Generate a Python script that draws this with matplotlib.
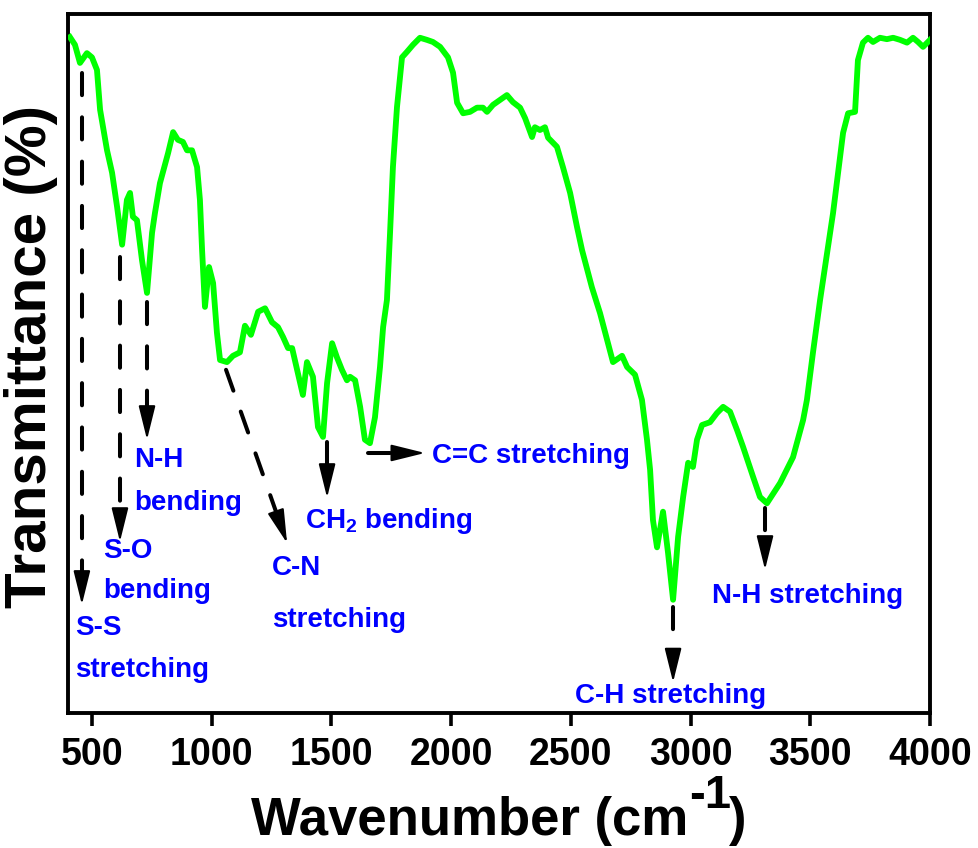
import matplotlib
matplotlib.use("Agg")
import matplotlib.pyplot as plt
import numpy as np

plt.rcParams['font.family'] = ['Liberation Sans', 'DejaVu Sans']
plt.rcParams['font.weight'] = 'bold'
plt.rcParams['mathtext.fontset'] = 'custom'
plt.rcParams['mathtext.rm'] = 'Liberation Sans:bold'
plt.rcParams['mathtext.bf'] = 'Liberation Sans:bold'
plt.rcParams['mathtext.it'] = 'Liberation Sans:bold'

# FTIR spectrum
wavenumber = [408, 429, 450, 479, 500, 521, 534, 563, 584, 605, 626, 646, 659, 671, 688, 709, 730,
              751, 763, 784, 818, 839, 859, 880, 897, 918, 939, 951, 960, 972, 989, 1006, 1022,
              1035, 1064, 1089, 1118, 1139, 1164, 1194, 1223, 1252, 1277, 1298, 1319, 1336, 1356,
              1381, 1398, 1423, 1444, 1465, 1482, 1503, 1523, 1544, 1565, 1578, 1599, 1620, 1640,
              1661, 1682, 1703, 1716, 1732, 1745, 1757, 1774, 1795, 1816, 1841, 1870, 1899, 1924,
              1954, 1987, 2008, 2025, 2050, 2079, 2108, 2133, 2150, 2175, 2233, 2258, 2288, 2309,
              2338, 2350, 2371, 2392, 2405, 2442, 2467, 2497, 2526, 2547, 2588, 2622, 2676, 2714,
              2735, 2768, 2797, 2818, 2831, 2843, 2860, 2885, 2906, 2927, 2948, 2969, 2990, 3010,
              3027, 3048, 3081, 3110, 3136, 3165, 3194, 3219, 3261, 3290, 3319, 3374, 3428, 3470,
              3486, 3511, 3541, 3570, 3595, 3616, 3637, 3658, 3687, 3699, 3720, 3741, 3762, 3791,
              3820, 3846, 3875, 3904, 3929, 3950, 3971, 4000]
transmittance = [96.7, 95.6, 93.0, 94.4, 93.8, 92.0, 86.3, 80.5, 77.3, 72.4, 67.0, 73.4, 74.4, 71.0,
                 70.5, 64.8, 60.1, 68.7, 71.5, 75.8, 80.1, 83.1, 82.0, 81.7, 80.5, 80.5, 78.1, 73.4,
                 66.2, 58.1, 63.8, 61.5, 54.4, 50.5, 50.2, 51.1, 51.6, 55.4, 54.1, 57.4, 57.9, 55.9,
                 55.2, 53.8, 52.2, 52.2, 49.2, 45.5, 50.2, 48.1, 40.9, 39.5, 47.2, 52.9, 50.9, 49.1,
                 47.6, 48.1, 47.6, 43.8, 39.1, 38.6, 42.3, 49.5, 55.2, 59.1, 68.7, 78.1, 86.7, 93.8,
                 94.6, 95.6, 96.6, 96.3, 96.0, 95.3, 93.8, 91.6, 87.3, 85.8, 86.0, 86.6, 86.6, 86.0,
                 87.0, 88.4, 87.4, 86.6, 85.1, 82.4, 83.8, 83.4, 83.8, 82.3, 81.0, 78.1, 74.4, 69.5,
                 66.2, 60.9, 57.2, 50.2, 51.1, 49.5, 48.4, 44.8, 39.1, 34.8, 27.6, 23.7, 28.8, 22.9,
                 16.2, 25.2, 30.9, 35.8, 35.2, 39.1, 41.2, 41.6, 42.9, 43.8, 43.1, 40.5, 38.1, 33.8,
                 30.9, 30.0, 32.9, 36.6, 41.9, 44.8, 51.5, 59.1, 65.8, 71.5, 77.3, 83.0, 85.8, 86.0,
                 93.4, 95.9, 96.6, 96.0, 96.6, 96.4, 96.6, 96.3, 95.9, 96.6, 96.0, 95.3, 96.3]

# band assignments: (arrow start, arrow tip)
arrow_starts = [(458, 91.6), (617, 65.2), (730, 58.8), (1060, 49.1), (1482, 38.8),
                (1653, 37.2), (2927, 15.2), (3311, 29.3)]
arrow_tips = [(458, 15.5), (617, 24.5), (730, 39.1), (1315, 24.3), (1482, 30.8),
              (1891, 37.2), (2927, 4.4), (3311, 20.5)]
labels = [
    (429, 11.2, 'S-S', 'left'), (429, 5.2, 'stretching', 'left'),
    (546, 22.2, 'S-O', 'left'), (546, 16.5, 'bending', 'left'),
    (676, 35.2, 'N-H', 'left'), (676, 29.0, 'bending', 'left'),
    (1252, 19.7, 'C-N', 'left'), (1252, 12.3, 'stretching', 'left'),
    (1390, 26.5, r'CH$_{2}$ bending', 'left'),
    (1920, 35.8, 'C=C stretching', 'left'),
    (2918, 1.4, 'C-H stretching', 'center'),
    (3090, 15.7, 'N-H stretching', 'left'),
]

fig = plt.figure(figsize=(9.79, 8.48), dpi=100)
ax = fig.add_axes([68 / 979, 1 - 713 / 848, 862 / 979, 699 / 848])

ax.plot(wavenumber, transmittance, color='#00ff00', lw=4.2, solid_joinstyle='round', zorder=3)

ax.set_xlim(400, 4000)
ax.set_ylim(0, 100)

# dashed shaft + solid narrow head
head_px = 30
for (x0, y0), (x1, y1) in zip(arrow_starts, arrow_tips):
    p0 = ax.transData.transform((x0, y0))
    p1 = ax.transData.transform((x1, y1))
    d = (p1 - p0) / np.hypot(*(p1 - p0))
    base = ax.transData.inverted().transform(p1 - d * head_px)
    ax.plot([x0, base[0]], [y0, base[1]], color='black', lw=2.9,
            linestyle=(0, (5.5, 5.5)), dash_capstyle='round', zorder=4)
    ax.annotate('', xy=(x1, y1), xytext=(base[0], base[1]),
                arrowprops=dict(arrowstyle='-|>,head_length=1.05,head_width=0.26',
                                color='black', lw=1.5, mutation_scale=20,
                                shrinkA=0, shrinkB=0), zorder=4)

for x, y, s, ha in labels:
    ax.text(x, y, s, color='#0000ff', fontsize=20, fontweight='bold', ha=ha, va='baseline')

ax.set_xticks([500, 1000, 1500, 2000, 2500, 3000, 3500, 4000])
ax.set_yticks([])
ax.tick_params(axis='x', direction='out', length=9, width=2.6, labelsize=27, pad=8)
for lab in ax.get_xticklabels():
    lab.set_fontweight('bold')
for sp in ax.spines.values():
    sp.set_linewidth(2.8)

ax.set_ylabel('Transmittance (%)', fontsize=42, fontweight='bold')
ax.yaxis.set_label_coords(-10 / 862, 0.51)

# x label built in pieces so the -1 sits high at near full size
fig.text(688 / 979, 1 - 835 / 848, 'Wavenumber (cm', fontsize=38, fontweight='bold',
         ha='right', va='baseline')
fig.text(689 / 979, 1 - 808 / 848, '-1', fontsize=34, fontweight='bold',
         ha='left', va='baseline')
fig.text(729 / 979, 1 - 835 / 848, ')', fontsize=38, fontweight='bold',
         ha='left', va='baseline')

fig.savefig('out.png', dpi=100)
